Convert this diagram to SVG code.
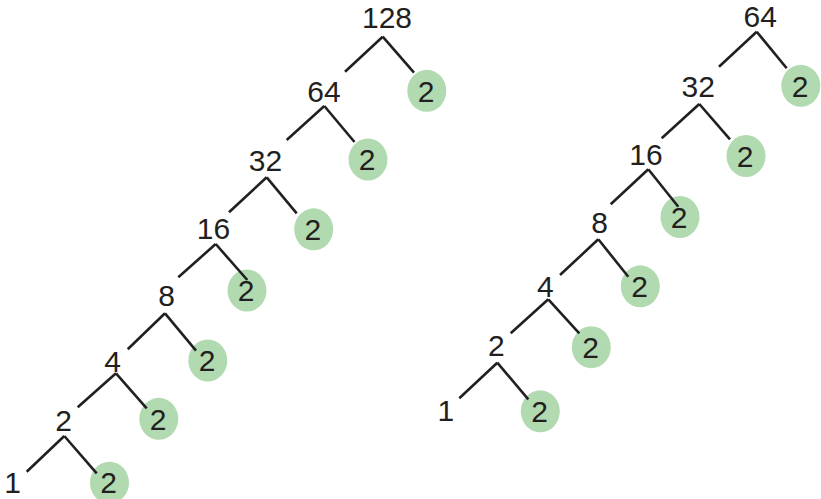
<svg xmlns="http://www.w3.org/2000/svg" width="821" height="499" viewBox="0 0 821 499">
<style>
text{font-family:"Liberation Sans",Arial,sans-serif;font-size:30px;fill:#231f20;text-anchor:middle}
.c{fill:#b1dab0}
.e line{stroke:#231f20;stroke-width:2.6;stroke-linecap:butt}
</style>
<rect width="821" height="499" fill="#fff"/>
<defs><ellipse id="b" rx="19.5" ry="21"/></defs>
<!-- left tree numbers -->
<g id="L128"><text x="387" y="28">128</text></g>
<g id="L64"><text x="324" y="102">64</text></g>
<g id="L32"><text x="265.5" y="170.5">32</text></g>
<g id="L16"><text x="213.5" y="239">16</text></g>
<g id="L8"><text x="166.5" y="306">8</text></g>
<g id="L4"><text x="112.5" y="371.5">4</text></g>
<g id="L2"><text x="63.5" y="430.5">2</text></g>
<g id="L1"><text x="12.5" y="493">1</text></g>
<!-- left tree factor 2 -->
<g id="LF1"><use href="#b" class="c" x="426.8" y="90.8"/><text x="426" y="101.5">2</text></g>
<g id="LF2"><use href="#b" class="c" x="368" y="159.5"/><text x="367.2" y="170.2">2</text></g>
<g id="LF3"><use href="#b" class="c" x="313.7" y="229.3"/><text x="312.9" y="240">2</text></g>
<g id="LF4"><use href="#b" class="c" x="247" y="290.5"/><text x="246.2" y="301.2">2</text></g>
<g id="LF5"><use href="#b" class="c" x="207.8" y="360.5"/><text x="207" y="371.2">2</text></g>
<g id="LF6"><use href="#b" class="c" x="158.8" y="418.8"/><text x="158" y="429.5">2</text></g>
<g id="LF7"><use href="#b" class="c" x="109.5" y="482.7"/><text x="108.7" y="493.4">2</text></g>
<!-- right tree numbers -->
<g id="R64"><text x="760.3" y="26.7">64</text></g>
<g id="R32"><text x="698.3" y="96.7">32</text></g>
<g id="R16"><text x="646" y="165">16</text></g>
<g id="R8"><text x="599.7" y="233.3">8</text></g>
<g id="R4"><text x="545.3" y="296.7">4</text></g>
<g id="R2"><text x="496.3" y="356">2</text></g>
<g id="R1"><text x="445.8" y="420.7">1</text></g>
<!-- right tree factor 2 -->
<g id="RF1"><use href="#b" class="c" x="800.8" y="85.8"/><text x="800" y="96.5">2</text></g>
<g id="RF2"><use href="#b" class="c" x="746" y="156"/><text x="745.2" y="166.7">2</text></g>
<g id="RF3"><use href="#b" class="c" x="680" y="217"/><text x="679.2" y="227.7">2</text></g>
<g id="RF4"><use href="#b" class="c" x="640.3" y="286.3"/><text x="639.5" y="297">2</text></g>
<g id="RF5"><use href="#b" class="c" x="591.3" y="347.2"/><text x="590.5" y="357.9">2</text></g>
<g id="RF6"><use href="#b" class="c" x="540.3" y="411.3"/><text x="539.5" y="422">2</text></g>
<!-- connectors -->
<g id="connectors" class="e">
<line x1="382.7" y1="36.7" x2="345" y2="71.7"/><line x1="382.7" y1="36.7" x2="414" y2="72.7"/>
<line x1="324.3" y1="106" x2="286.7" y2="140"/><line x1="324.3" y1="106" x2="354.5" y2="142"/>
<line x1="266.7" y1="177.3" x2="229" y2="212.3"/><line x1="266.7" y1="177.3" x2="296.7" y2="213.3"/>
<line x1="215.7" y1="244" x2="178.3" y2="277.3"/><line x1="215.7" y1="244" x2="247.3" y2="280"/>
<line x1="165" y1="313.3" x2="127.7" y2="349.3"/><line x1="165" y1="313.3" x2="196" y2="350.7"/>
<line x1="116" y1="373.3" x2="77.7" y2="407.3"/><line x1="116" y1="373.3" x2="146.7" y2="408.3"/>
<line x1="64.3" y1="436" x2="26.7" y2="471.7"/><line x1="64.3" y1="436" x2="96.7" y2="473.3"/>
<line x1="756.7" y1="31.7" x2="719" y2="66.7"/><line x1="756.7" y1="31.7" x2="786.7" y2="68.3"/>
<line x1="699.3" y1="104" x2="661.7" y2="138.3"/><line x1="699.3" y1="104" x2="730" y2="139.3"/>
<line x1="648.3" y1="169.3" x2="610.7" y2="204.3"/><line x1="648.3" y1="169.3" x2="678.3" y2="206.7"/>
<line x1="598.3" y1="239.3" x2="560" y2="275"/><line x1="598.3" y1="239.3" x2="628.3" y2="276.7"/>
<line x1="548.3" y1="299.3" x2="510.7" y2="333.3"/><line x1="548.3" y1="299.3" x2="579.3" y2="333.3"/>
<line x1="497.3" y1="362.7" x2="459.3" y2="398.3"/><line x1="497.3" y1="362.7" x2="528.3" y2="399.3"/>
</g>
</svg>
